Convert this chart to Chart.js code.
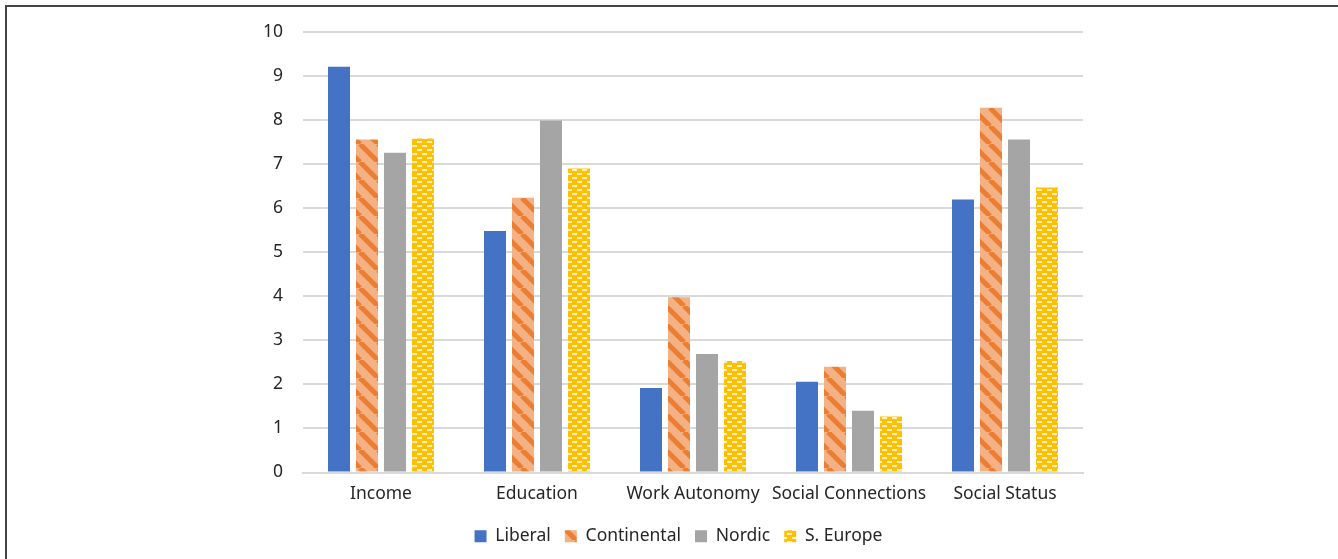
<!DOCTYPE html>
<html>
<head>
<meta charset="utf-8">
<script src="https://cdn.jsdelivr.net/npm/chart.js@4"></script>
<style>
    html, body { margin: 0; padding: 0; background: #fff; }
    #wrap { position: relative; width: 1338px; height: 559px; overflow: hidden; }
    #frame { position: absolute; left: 5px; top: 5px; right: -10px; bottom: -10px;
             border-top: 2px solid #444; border-left: 2px solid #444; }
    canvas { position: absolute; left: 0; top: 0; }
</style>
</head>
<body>
<div id="wrap">
    <div id="frame"></div>
    <canvas id="chart" width="1338" height="559"></canvas>
</div>
<script>
const categories = ['Income', 'Education', 'Work Autonomy', 'Social Connections', 'Social Status'];
const liberal = [9.21, 5.48, 1.92, 2.06, 6.20];
const continental = [7.56, 6.24, 3.98, 2.40, 8.28];
const nordic = [7.26, 7.99, 2.69, 1.40, 7.56];
const sEurope = [7.58, 6.90, 2.53, 1.27, 6.47];
const yTicks = [0, 1, 2, 3, 4, 5, 6, 7, 8, 9, 10];

function stripePattern() {
    const c = document.createElement('canvas');
    c.width = 18; c.height = 18;
    const g = c.getContext('2d');
    g.fillStyle = '#f4b183';
    g.fillRect(0, 0, 18, 18);
    g.strokeStyle = '#ed7d31';
    g.lineWidth = 5;
    for (let k = -18; k <= 36; k += 18) {
        g.beginPath();
        g.moveTo(k, 0);
        g.lineTo(k + 18, 18);
        g.stroke();
    }
    return g.createPattern(c, 'repeat');
}

function brickPattern() {
    const c = document.createElement('canvas');
    c.width = 10; c.height = 8;
    const g = c.getContext('2d');
    g.fillStyle = '#ffc000';
    g.fillRect(0, 0, 10, 8);
    g.fillStyle = '#fff0c4';
    g.fillRect(2, 1, 5, 2);
    g.fillRect(7, 5, 3, 2);
    g.fillRect(0, 5, 2, 2);
    return g.createPattern(c, 'repeat');
}

const font = "'Noto Sans', sans-serif";

const ctx = document.getElementById('chart').getContext('2d');
const chart = new Chart(ctx, {
    type: 'bar',
    data: {
        labels: categories,
        datasets: [
            { label: 'Liberal', data: liberal, backgroundColor: '#4472c4' },
            { label: 'Continental', data: continental, backgroundColor: stripePattern() },
            { label: 'Nordic', data: nordic, backgroundColor: '#a5a5a5' },
            { label: 'S. Europe', data: sEurope, backgroundColor: brickPattern() }
        ]
    },
    options: {
        responsive: false,
        animation: false,
        layout: { padding: { top: 32, right: 0, bottom: 4, left: 19 } },
        datasets: { bar: { categoryPercentage: 0.718, barPercentage: 0.786 } },
        plugins: {
            tooltip: { enabled: false },
            legend: {
                position: 'bottom',
                labels: {
                    boxWidth: 12,
                    boxHeight: 12,
                    padding: 14,
                    color: '#262626',
                    font: { family: font, size: 17.5 }
                }
            }
        },
        scales: {
            x: {
                grid: { display: false },
                border: { color: '#d9d9d9', width: 2 },
                afterFit: s => { s.height = 41; },
                ticks: {
                    color: '#262626', padding: 3, maxRotation: 0, minRotation: 0, autoSkip: false,
                    font: { family: font, size: 17.5 }
                }
            },
            y: {
                min: 0,
                max: 10,
                afterFit: s => { s.width = 284; },
                afterBuildTicks: s => { s.ticks = yTicks.map(v => ({ value: v })); },
                grid: { color: '#d9d9d9', lineWidth: 2, drawTicks: false },
                border: { display: false },
                ticks: { color: '#262626', padding: 20, font: { family: font, size: 17.5 } }
            },
            y2: {
                position: 'right',
                grid: { display: false },
                border: { display: false },
                ticks: { display: false },
                afterFit: s => { s.width = 255; }
            }
        }
    }
});
</script>
</body>
</html>
